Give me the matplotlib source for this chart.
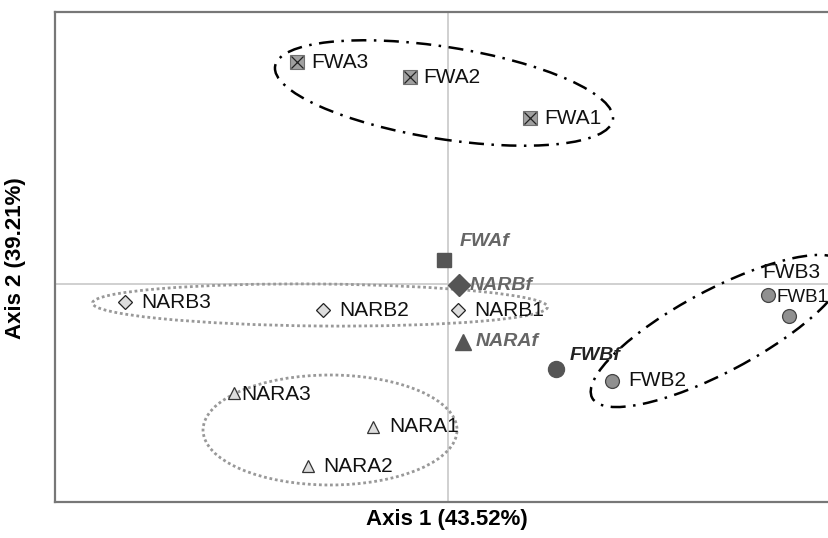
import matplotlib.pyplot as plt
from matplotlib.patches import Ellipse

plt.rcParams['font.family'] = ['Liberation Sans', 'DejaVu Sans']

# PCA scores (axis 1, axis 2)
fwa_names = ['FWA1', 'FWA2', 'FWA3']
fwa_x = [0.82, -0.38, -1.51]
fwa_y = [1.66, 2.07, 2.22]

narb_names = ['NARB1', 'NARB2', 'NARB3']
narb_x = [0.10, -1.25, -3.23]
narb_y = [-0.26, -0.26, -0.18]

nara_names = ['NARA1', 'NARA2', 'NARA3']
nara_x = [-0.75, -1.40, -2.14]
nara_y = [-1.43, -1.82, -1.09]

fwb_names = ['FWB1', 'FWB2', 'FWB3']
fwb_x = [3.41, 1.64, 3.20]
fwb_y = [-0.32, -0.97, -0.11]

# fractions
frac_names = ['FWAf', 'NARBf', 'NARAf', 'FWBf']
frac_x = [-0.04, 0.11, 0.15, 1.08]
frac_y = [0.24, -0.01, -0.58, -0.85]

fig = plt.figure(figsize=(8.29, 5.38), dpi=100)
ax = fig.add_axes([55 / 829, 36 / 538, 780 / 829, 490 / 538])
ax.set_xlim(-3.93, 3.87)
ax.set_ylim(-2.18, 2.72)

ax.axhline(0, color='#c8c8c8', lw=1.2, zorder=0)
ax.axvline(0, color='#c8c8c8', lw=1.2, zorder=0)

# group ellipses
ax.add_patch(Ellipse((-0.04, 1.91), 3.42, 0.92, angle=-9, fill=False,
                     ec='black', lw=1.8, ls=(0, (6, 3, 1, 3))))
ax.add_patch(Ellipse((2.70, -0.47), 2.85, 0.82, angle=28, fill=False,
                     ec='black', lw=1.8, ls=(0, (6, 3, 1, 3))))
ax.add_patch(Ellipse((-1.28, -0.21), 4.55, 0.42, angle=-0.5, fill=False,
                     ec='#999999', lw=2, ls=(0, (1, 1))))
ax.add_patch(Ellipse((-1.18, -1.46), 2.54, 1.10, angle=0, fill=False,
                     ec='#999999', lw=2, ls=(0, (1, 1))))

# samples
ax.plot(fwa_x, fwa_y, 's', ms=9.5, mfc='#a0a0a0', mec='#707070', mew=0.8, ls='none')
ax.plot(fwa_x, fwa_y, 'x', ms=8, mec='#222222', mew=0.9, ls='none')
ax.plot(narb_x, narb_y, 'D', ms=7, mfc='#dddddd', mec='#222222', mew=0.9, ls='none')
ax.plot(nara_x, nara_y, '^', ms=9, mfc='#dddddd', mec='#333333', mew=0.9, ls='none')
ax.plot(fwb_x, fwb_y, 'o', ms=10, mfc='#909090', mec='#444444', mew=0.9, ls='none')

# fractions
frac_marker = ['s', 'D', '^', 'o']
frac_size = [10, 11, 12, 11.5]
for x, y, m, s in zip(frac_x, frac_y, frac_marker, frac_size):
    ax.plot(x, y, m, ms=s, mfc='#555555', mec='#555555', ls='none')

lab_off = {
    'FWA1': (14, 0), 'FWA2': (13, 0), 'FWA3': (14, 0),
    'NARB1': (16, 0), 'NARB2': (16, 0), 'NARB3': (16, 0),
    'NARA1': (16, 0), 'NARA2': (15, 0), 'NARA3': (7, -2),
    'FWB1': (-12, 18), 'FWB2': (16, 0), 'FWB3': (-6, 23),
}
for names, xs, ys in [(fwa_names, fwa_x, fwa_y), (narb_names, narb_x, narb_y),
                      (nara_names, nara_x, nara_y), (fwb_names, fwb_x, fwb_y)]:
    for n, x, y in zip(names, xs, ys):
        fs = 13.5 if n == 'FWB1' else 15
        ax.annotate(n, (x, y), xytext=lab_off[n], textcoords='offset pixels',
                    ha='left', va='center', fontsize=fs, color='#111111')

frac_off = [(16, 18), (11, 0), (13, 0), (14, 14)]
frac_col = ['#666666', '#666666', '#666666', '#222222']
for n, x, y, o, c in zip(frac_names, frac_x, frac_y, frac_off, frac_col):
    ax.annotate(n, (x, y), xytext=o, textcoords='offset pixels', ha='left',
                va='center', fontsize=14, fontweight='bold', fontstyle='italic', color=c)

ax.set_xticks([])
ax.set_yticks([])
for sp in ax.spines.values():
    sp.set_color('#777777')
    sp.set_linewidth(1.6)

fig.text(447 / 829, 1 - 519 / 538, 'Axis 1 (43.52%)', ha='center', va='center',
         fontsize=16, fontweight='bold')
fig.text(16 / 829, 1 - 258 / 538, 'Axis 2 (39.21%)', ha='center', va='center',
         rotation=90, fontsize=16, fontweight='bold')

fig.savefig('out.png', dpi=100)
